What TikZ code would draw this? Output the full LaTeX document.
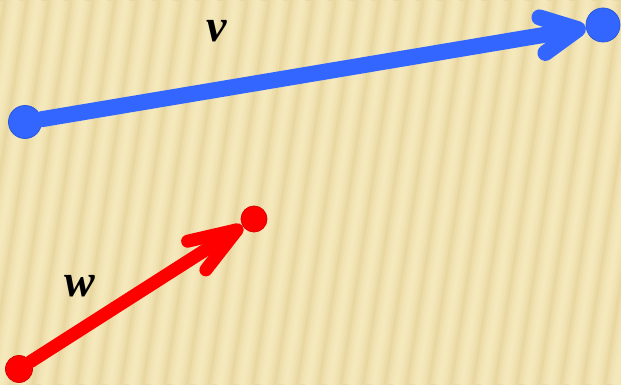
\documentclass[tikz,border=0pt]{standalone}
\usepackage{fontspec}
\setmainfont{Liberation Serif}
\usetikzlibrary{arrows.meta,positioning,calc}
\definecolor{myblue}{RGB}{51,102,255}
\definecolor{myred}{RGB}{255,0,0}
\definecolor{paperlight}{HTML}{FCF2CA}
\definecolor{paperdark}{HTML}{EAD8A2}

\begin{document}
\begin{tikzpicture}[
		x=1pt,
		y=-1pt,
		line cap=round,
		line join=round,
		dotblue/.style={circle,fill=myblue,draw=myblue!85!black,line width=0.8pt,inner sep=0pt,minimum size=#1},
		dotred/.style={circle,fill=myred,draw=myred!85!black,line width=0.8pt,inner sep=0pt,minimum size=#1},
		vecblue/.style={line width=16pt,draw=myblue,-{Straight Barb[length=36pt,width=36pt,round]}},
		vecred/.style={line width=13pt,draw=myred,-{Straight Barb[length=48pt,width=34pt,round]}},
		veclabel/.style={font=\fontsize{46}{50}\selectfont\bfseries\itshape,inner sep=0pt},
		stripe/.style={paperlight,line cap=butt,opacity=0.25}
	]
	
	\useasboundingbox (0,0) rectangle (621,385);
	
	% Striped paper background
	\begin{scope}
		\clip (0,0) rectangle (621,385);
		\fill[paperdark] (0,0) rectangle (621,385);
		\foreach \x in {-88,-66,...,660} {
			\foreach \w in {18,13,8,4} {
				\draw[stripe,line width=\w pt] (\x,385) -- (\x+60,0);
			}
		}
	\end{scope}
	
	% Tails and heads of the vectors
	\node[dotblue=33pt] (vtail) at (25,122) {};
	\node[dotblue=34pt] (vhead) at (603,25) {};
	\node[dotred=27pt]  (wtail) at (19,369) {};
	\node[dotred=26pt]  (whead) at (254,219) {};
	
	% Vectors
	\draw[vecblue] (vtail) -- (vhead);
	\draw[vecred] (wtail) -- (whead);
	
	% Labels
	\node[veclabel] (vlabel) at (217,31) {v};
	\node[veclabel] (wlabel) at (80,286) {w};
	
\end{tikzpicture}
\end{document}
